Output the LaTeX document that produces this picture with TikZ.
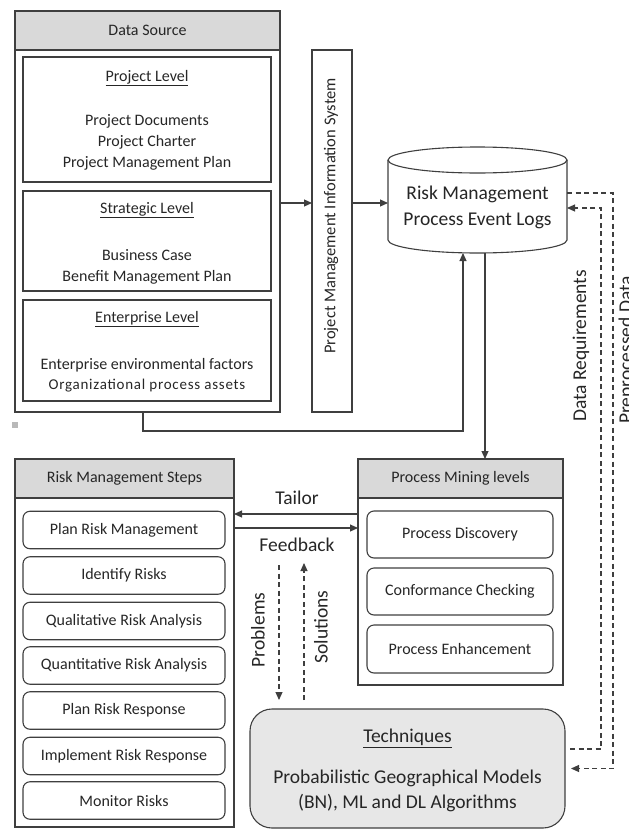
\documentclass[tikz,border=0pt]{standalone}
\usepackage{fontspec}
\setmainfont{Carlito}
\usetikzlibrary{arrows.meta,calc}
\definecolor{ln}{HTML}{3F3F3F}
\definecolor{hdr}{HTML}{D9D9D9}
\definecolor{tfill}{HTML}{E7E7E7}
\definecolor{tx}{HTML}{262626}
\begin{document}
\begin{tikzpicture}[x=1pt,y=-1pt,
  every node/.style={text=tx, inner sep=0pt, outer sep=0pt},
  frame/.style={draw=ln, line width=1.1pt},
  hdrbox/.style={frame, fill=hdr},
  rbox/.style={frame, rounded corners=7pt},
  arr/.style={draw=ln, line width=1.1pt, -{Triangle[length=8pt,width=7pt]}},
  darr/.style={arr, dash pattern=on 5pt off 3.5pt},
  fs/.style={font=\fontsize{16}{21}\selectfont},
  fm/.style={font=\fontsize{16}{20}\selectfont},
  fp/.style={font=\fontsize{16.5}{20}\selectfont},
  fl/.style={font=\fontsize{19.5}{25}\selectfont},
  fc/.style={font=\fontsize{19.5}{26}\selectfont},
]
\useasboundingbox (0,0) rectangle (629,830);

% Data source
\node[frame, minimum width=265, minimum height=401] (ds) at (147.5,211.5) {};
\node[hdrbox, minimum width=265, minimum height=39, anchor=north] (dsh) at (ds.north) {};
\node[fs] (dst) at (dsh) {Data Source};
\node[frame, minimum width=248, minimum height=125] (pl) at (147,119.5) {};
\node[fs] (plt) at (147,78) {\underline{Project Level}};
\node[fs, align=center] (plb) at (147,142) {Project Documents\\Project Charter\\Project Management Plan};
\node[frame, minimum width=248, minimum height=100] (sl) at (147,241) {};
\node[fs] (slt) at (147,210) {\underline{Strategic Level}};
\node[fs, align=center] (slb) at (147,266.5) {Business Case\\Benefit Management Plan};
\node[frame, minimum width=248, minimum height=101] (el) at (147,350.5) {};
\node[fs] (elt) at (147,319) {\underline{Enterprise Level}};
\node[fm, align=center] (elb) at (147,375) {Enterprise environmental factors\\{\fontsize{15}{20}\selectfont\addfontfeatures{LetterSpace=5}Organizational process assets}};
\fill[gray!55] (12,422) rectangle (18,428);

% PMIS
\node[frame, minimum width=40, minimum height=362] (pmis) at (332,231) {};
\node[fp, rotate=90] (pmist) at (331,216) {Project Management Information System};

% Cylinder
\node[minimum width=179, minimum height=106] (logs) at (477.5,200) {};
\draw[frame, fill=white] (388,160) -- (388,240) arc[start angle=180, end angle=360, x radius=89.5pt, y radius=13pt] -- (567,160);
\draw[frame] (477.5,160) ellipse [x radius=89.5pt, y radius=13pt];
\node[fc, align=center] (logst) at (477.5,207) {Risk Management\\Process Event Logs};

% arrows top
\coordinate (a1) at (0,203);
\draw[arr] (ds.east |- a1) -- (pmis.west |- a1);
\draw[arr] (pmis.east |- a1) -- (logs.west |- a1);
\coordinate (e1) at (143,431);
\coordinate (e2) at (463,431);
\draw[arr] (ds.south -| e1) -- (e1) -- (e2) -- (e2 |- logs.south);

% Process mining levels
\node[frame, minimum width=205, minimum height=226] (pml) at (460.5,572) {};
\node[hdrbox, minimum width=205, minimum height=39, anchor=north] (pmlh) at (pml.north) {};
\node[fs] (pmlt) at (pmlh) {Process Mining levels};
\node[rbox, fs, minimum width=186, minimum height=47] (pd) at (460,534.5) {Process Discovery};
\node[rbox, fs, minimum width=186, minimum height=47] (cc) at (460,591.5) {Conformance Checking};
\node[rbox, fs, minimum width=186, minimum height=48] (pe) at (460,649) {Process Enhancement};

\coordinate (d1) at (485,0);
\draw[arr] (logs.south -| d1) -- (pml.north -| d1);

% Risk management steps
\node[frame, minimum width=219, minimum height=368] (rms) at (124.5,643) {};
\node[hdrbox, minimum width=219, minimum height=39, anchor=north] (rmsh) at (rms.north) {};
\node[fs] (rmst) at (rmsh) {Risk Management Steps};
\node[rbox, fs, minimum width=202, minimum height=37.5] (s1) at (124,530) {Plan Risk Management};
\node[rbox, fs, minimum width=202, minimum height=37.5] (s2) at (124,575.5) {Identify Risks};
\node[rbox, fs, minimum width=202, minimum height=37.5] (s3) at (124,621) {Qualitative Risk Analysis};
\node[rbox, fs, minimum width=202, minimum height=37.5] (s4) at (124,665.5) {Quantitative Risk Analysis};
\node[rbox, fs, minimum width=202, minimum height=37.5] (s5) at (124,710.5) {Plan Risk Response};
\node[rbox, fs, minimum width=202, minimum height=37.5] (s6) at (124,756) {Implement Risk Response};
\node[rbox, fs, minimum width=202, minimum height=37.5] (s7) at (124,800.5) {Monitor Risks};

% Tailor / Feedback
\coordinate (t1) at (0,514);
\coordinate (f1) at (0,528);
\draw[arr] (pml.west |- t1) -- (rms.east |- t1);
\draw[arr] (rms.east |- f1) -- (pml.west |- f1);
\node[fl] (tlt) at (297,498) {Tailor};
\node[fl] (fbt) at (297,545) {Feedback};

% Techniques
\node[frame, fill=tfill, rounded corners=22pt, minimum width=315, minimum height=119] (tech) at (407.5,768.5) {};
\node[fl] (techt) at (407.5,738) {\underline{Techniques}};
\node[fl, align=center] (techb) at (407.5,790.5) {Probabilistic Geographical Models\\(BN), ML and DL Algorithms};

% Problems / Solutions
\coordinate (p1) at (279,565);
\coordinate (q1) at (304,563);
\draw[darr, shorten >=9pt] (p1) -- (p1 |- tech.north);
\draw[darr, shorten <=9pt] (q1 |- tech.north) -- (q1);
\node[fl, rotate=90] (pbt) at (258,630) {Problems};
\node[fl, rotate=90] (sot) at (321,627) {Solutions};

% right dashed
\coordinate (r1) at (613,0);
\coordinate (r2) at (601,0);
\draw[darr, shorten >=6pt] ([yshift=7pt]logs.east) -| (r1 |- tech.east) -- (tech.east);
\draw[darr, shorten <=5pt] ([yshift=19.5pt]tech.east) -| ([yshift=-8pt]logs.east -| r2) -- ([yshift=-8pt]logs.east);
\node[fl, rotate=90] (drt) at (581,346) {Data Requirements};
\node[fl, rotate=90] (ppt) at (627,350) {Preprocessed Data};
\end{tikzpicture}
\end{document}
